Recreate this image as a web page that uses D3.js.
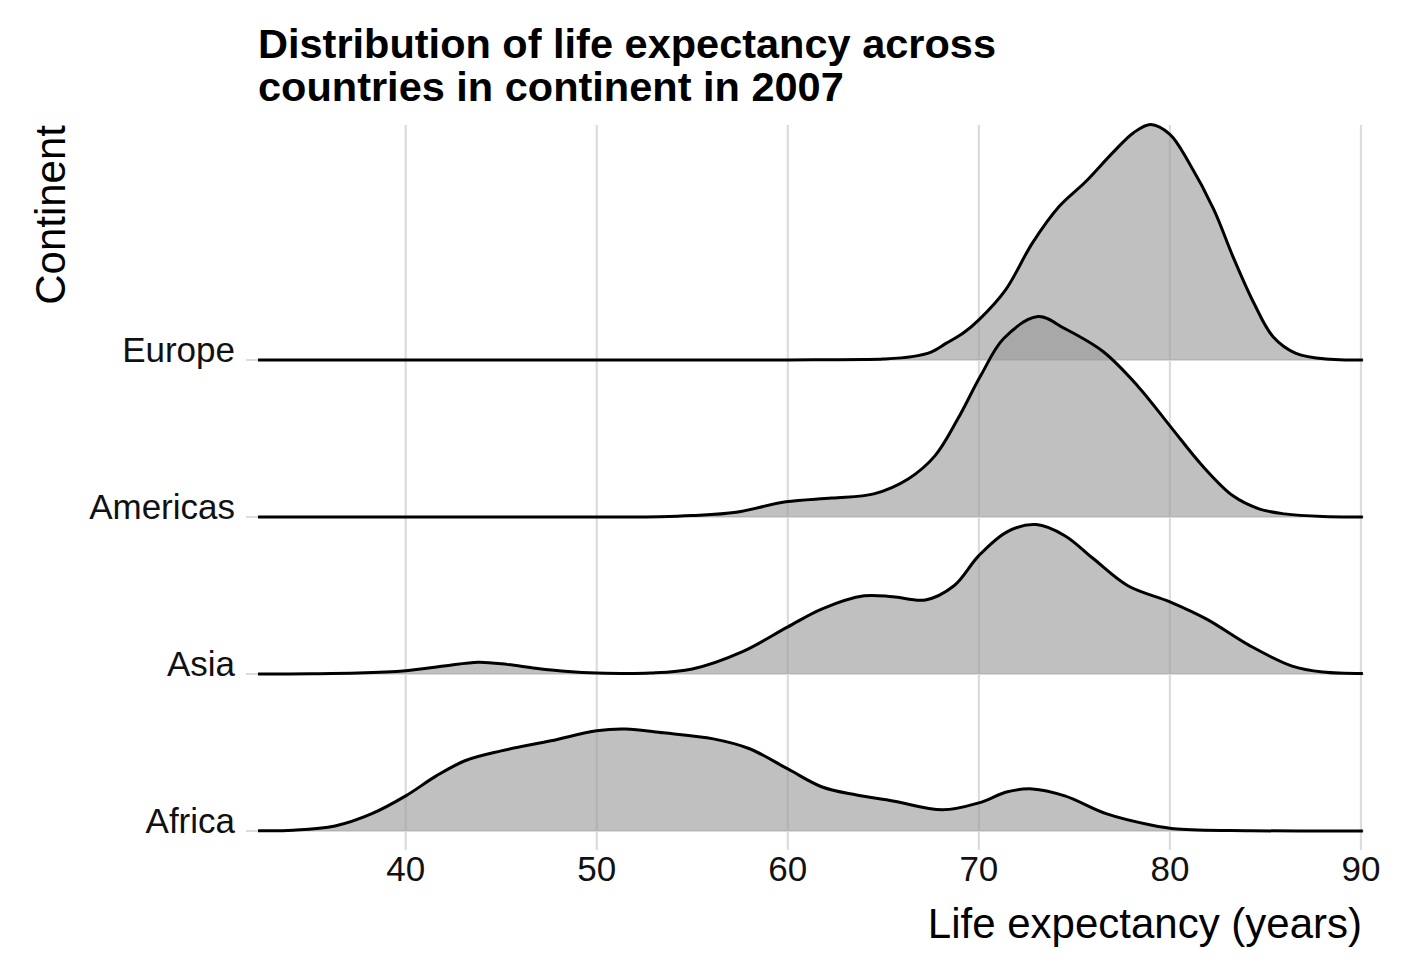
<!DOCTYPE html>
<html>
<head>
<meta charset="utf-8">
<script src="https://cdn.jsdelivr.net/npm/d3@7"></script>
<style>
  body { margin: 0; background: #fff; }
  text { font-family: "Liberation Sans", Arial, Helvetica, sans-serif; }
</style>
</head>
<body>
<div id="ridges"></div>
<script>
// Continents, bottom row first
const continents = ["Africa", "Asia", "Americas", "Europe"];
const xTicks = [40, 50, 60, 70, 80, 90];
const titleLines = [
  "Distribution of life expectancy across",
  "countries in continent in 2007",
];

// Kernel density estimates: [life expectancy, density]
const africaDensity = [
  [32.27, 0.0001], [34.1, 0.0003], [36.3, 0.0021], [38.2, 0.0071], [40, 0.0146],
  [41.6, 0.0229], [43.1, 0.0292], [45, 0.0333], [47.6, 0.0375], [50, 0.0417],
  [51.5, 0.0424], [53.5, 0.0408], [56.1, 0.0383], [58, 0.0342], [60, 0.0258],
  [61.8, 0.0183], [63.6, 0.015], [65.5, 0.0125], [68.1, 0.0088], [70, 0.0117],
  [71.5, 0.0163], [72.8, 0.0175], [74.5, 0.0146], [76.7, 0.0071], [79, 0.0025],
  [80.4, 0.0008], [84.2, 0.0001], [90.1, 0],
];
const asiaDensity = [
  [32.27, 0], [35, 0.0001], [37.5, 0.0004], [40, 0.0014], [42, 0.0033],
  [43.8, 0.0049], [45.3, 0.004], [46.8, 0.0024], [48.5, 0.001], [50, 0.0004],
  [52.8, 0.0004], [55, 0.0021], [57.6, 0.0092], [60, 0.0196], [61.8, 0.0271],
  [64, 0.0325], [65.5, 0.0321], [67.2, 0.0308], [68.7, 0.0367], [70, 0.0492],
  [71.5, 0.0592], [73, 0.0621], [74.5, 0.0575], [76, 0.0479], [77.8, 0.0367],
  [80, 0.03], [81.9, 0.0229], [84.2, 0.0117], [86.4, 0.0033], [88, 0.0008],
  [90.1, 0.0002],
];
const americasDensity = [
  [32.27, 0], [50, 0.00004], [53.3, 0.00013], [55, 0.0006], [57.3, 0.002],
  [59.9, 0.0063], [62.3, 0.0079], [64.5, 0.0096], [66.3, 0.0158], [67.7, 0.0254],
  [68.9, 0.0408], [70.1, 0.0588], [71.3, 0.0742], [73.1, 0.0833], [74.5, 0.0783],
  [76.5, 0.0688], [78.3, 0.0546], [80, 0.0379], [81.7, 0.0213], [83.3, 0.0088],
  [84.7, 0.0033], [86, 0.0013], [88, 0.0002], [90.1, 0.00004],
];
const europeDensity = [
  [32.27, 0], [55, 0], [60, 0.00004], [62, 0.00013], [64, 0.0002], [65, 0.0004],
  [66.5, 0.0014], [67.5, 0.0033], [68.3, 0.007], [69.2, 0.0113], [70, 0.0167],
  [71.4, 0.0292], [72.8, 0.0486], [74.2, 0.0638], [75.6, 0.0742], [77, 0.0861],
  [78.1, 0.0945], [79, 0.0979], [80, 0.0938], [81, 0.082], [82.3, 0.0625],
  [83.3, 0.043], [84.4, 0.0236], [85.4, 0.0097], [86.6, 0.0028], [88.4, 0.0003],
  [90.1, 0.00004],
];

const densities = {
  Africa: africaDensity,
  Asia: asiaDensity,
  Americas: americasDensity,
  Europe: europeDensity,
};

const width = 1404;
const height = 972;
const panel = { left: 246, right: 1364, top: 125, bottom: 850 };
const ridgeScale = 1.5; // tallest ridge spans 1.5 rows

const svg = d3
  .select("#ridges")
  .append("svg")
  .attr("width", width)
  .attr("height", height);

const x = d3
  .scaleLinear()
  .domain([31.64, 90.16])
  .range([panel.left, panel.right]);

const y = d3.scalePoint().domain(continents).range([831, 360]);

const maxDensity = d3.max(continents, (c) => d3.max(densities[c], (d) => d[1]));
const h = d3
  .scaleLinear()
  .domain([0, maxDensity])
  .range([0, ridgeScale * y.step()]);

const curve = d3.curveCatmullRom.alpha(0.5);

// Vertical gridlines
svg
  .append("g")
  .selectAll("line")
  .data(xTicks)
  .enter()
  .append("line")
  .attr("x1", (d) => x(d))
  .attr("x2", (d) => x(d))
  .attr("y1", panel.top)
  .attr("y2", panel.bottom)
  .attr("stroke", "#dcdcdc")
  .attr("stroke-width", 2.2);

// Horizontal gridlines at each ridge baseline
svg
  .append("g")
  .selectAll("line")
  .data(continents)
  .enter()
  .append("line")
  .attr("x1", panel.left)
  .attr("x2", panel.right)
  .attr("y1", (d) => y(d))
  .attr("y2", (d) => y(d))
  .attr("stroke", "#dcdcdc")
  .attr("stroke-width", 2.2);

// Ridges, drawn from the top row down so lower ones sit on top
continents
  .slice()
  .reverse()
  .forEach((c) => {
    const base = y(c);
    const area = d3
      .area()
      .curve(curve)
      .x((d) => x(d[0]))
      .y0(base)
      .y1((d) => Math.min(base, base - h(d[1])));
    const line = d3
      .line()
      .curve(curve)
      .x((d) => x(d[0]))
      .y((d) => base - h(d[1]));

    svg
      .append("path")
      .datum(densities[c])
      .attr("d", area)
      .attr("fill", "#999999")
      .attr("fill-opacity", 0.62);

    svg
      .append("path")
      .datum(densities[c])
      .attr("d", line)
      .attr("fill", "none")
      .attr("stroke", "#000")
      .attr("stroke-width", 3);
  });

// Y axis labels
svg
  .append("g")
  .selectAll("text")
  .data(continents)
  .enter()
  .append("text")
  .attr("x", 235)
  .attr("y", (d) => y(d) + 2)
  .attr("text-anchor", "end")
  .attr("font-size", 35)
  .attr("fill", "#111")
  .text((d) => d);

// X axis tick labels
svg
  .append("g")
  .selectAll("text")
  .data(xTicks)
  .enter()
  .append("text")
  .attr("x", (d) => x(d))
  .attr("y", 881)
  .attr("text-anchor", "middle")
  .attr("font-size", 35)
  .attr("fill", "#111")
  .text((d) => d);

// Axis titles
svg
  .append("text")
  .attr("x", 1362)
  .attr("y", 938)
  .attr("text-anchor", "end")
  .attr("font-size", 42)
  .text("Life expectancy (years)");

svg
  .append("text")
  .attr("transform", "translate(65,125) rotate(-90)")
  .attr("text-anchor", "end")
  .attr("font-size", 42)
  .text("Continent");

// Title
svg
  .append("g")
  .selectAll("text")
  .data(titleLines)
  .enter()
  .append("text")
  .attr("x", 258)
  .attr("y", (d, i) => 58 + i * 43)
  .attr("font-size", 41.5)
  .attr("font-weight", "bold")
  .text((d) => d);
</script>
</body>
</html>
